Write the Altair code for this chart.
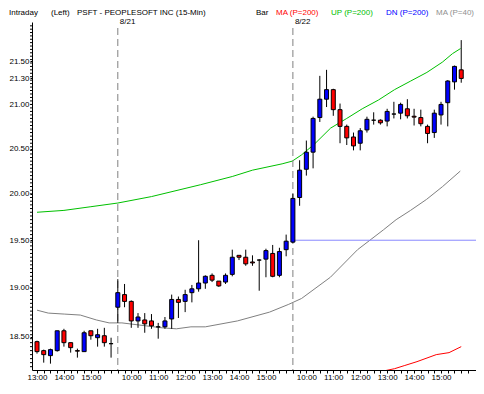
import altair as alt
import pandas as pd

# ---------------- data ----------------
bar_index = list(range(64))
opens = [18.45, 18.36, 18.31, 18.36, 18.56, 18.44, 18.36, 18.35, 18.56, 18.49, 18.51, 18.43,
         18.80, 18.93, 18.86, 18.66, 18.67, 18.66, 18.60, 18.60, 18.68, 18.88, 18.86, 18.95,
         18.99, 19.05, 19.13, 19.07, 19.06, 19.14, 19.34, 19.32, 19.27, 19.29, 19.30, 19.36,
         19.13, 19.40, 19.48, 19.96, 20.27, 20.46, 20.85, 21.06, 21.17, 20.94, 20.75, 20.63,
         20.56, 20.71, 20.82, 20.82, 20.81, 20.89, 20.90, 20.95, 20.865, 20.85, 20.75, 20.68,
         20.88, 21.02, 21.26, 21.40]
highs = [18.46, 18.37, 18.38, 18.56, 18.58, 18.44, 18.38, 18.56, 18.56, 18.58, 18.59, 18.49,
         19.09, 19.04, 18.87, 18.74, 18.74, 18.73, 18.64, 18.70, 18.93, 18.91, 18.98, 19.03,
         19.50, 19.13, 19.15, 19.07, 19.15, 19.40, 19.34, 19.40, 19.34, 19.30, 19.41, 19.45,
         19.42, 19.56, 20.00, 20.37, 20.59, 20.86, 21.33, 21.40, 21.18, 21.01, 20.77, 20.68,
         20.73, 20.86, 20.91, 20.83, 20.95, 21.03, 21.02, 21.06, 20.95, 20.94, 20.77, 20.94,
         21.03, 21.28, 21.45, 21.75]
lows = [18.33, 18.24, 18.23, 18.35, 18.40, 18.34, 18.29, 18.35, 18.47, 18.40, 18.40, 18.29,
        18.64, 18.80, 18.59, 18.59, 18.54, 18.58, 18.48, 18.58, 18.58, 18.69, 18.75, 18.85,
        18.96, 18.99, 19.06, 19.01, 19.04, 19.12, 19.29, 19.23, 19.23, 18.97, 19.11, 19.11,
        19.11, 19.33, 19.47, 19.87, 20.20, 20.28, 20.80, 20.97, 20.87, 20.56, 20.54, 20.48,
        20.48, 20.68, 20.77, 20.77, 20.75, 20.84, 20.83, 20.84, 20.76, 20.75, 20.56, 20.62,
        20.77, 20.75, 21.17, 21.25]
closes = [18.35, 18.32, 18.37, 18.56, 18.44, 18.39, 18.355, 18.54, 18.51, 18.52, 18.44, 18.43,
          18.95, 18.86, 18.66, 18.70, 18.63, 18.61, 18.60, 18.66, 18.88, 18.85, 18.93, 18.99,
          19.05, 19.12, 19.08, 19.02, 19.13, 19.32, 19.32, 19.25, 19.26, 19.29, 19.39, 19.12,
          19.38, 19.49, 19.95, 20.26, 20.46, 20.84, 21.06, 21.17, 20.94, 20.75, 20.62, 20.53,
          20.70, 20.83, 20.82, 20.79, 20.92, 20.89, 21.00, 20.87, 20.855, 20.78, 20.67, 20.90,
          21.00, 21.27, 21.44, 21.30]

up_k = [0, 4, 8, 12, 17, 24.3, 29, 32, 36.4, 37.9, 39.3, 41.2, 43.6, 46, 48.3, 50.7,
        53.1, 55.5, 57.9, 60.2, 61.7, 62.9]
up_v = [19.80, 19.82, 19.86, 19.90, 19.97, 20.10, 20.19, 20.26, 20.33, 20.36, 20.43, 20.55,
        20.73, 20.84, 20.95, 21.05, 21.17, 21.27, 21.37, 21.49, 21.59, 21.65]

ma40_k = [0, 1.67, 4.04, 6.43, 8.81, 10.71, 12.61, 16.19, 18.57, 20.71, 22.86, 25, 29.76,
          34.53, 37.39, 39.29, 43.57, 47.61, 51.43, 53.33, 55.47, 57.86, 60.24, 62.86]
ma40_v = [18.77, 18.74, 18.73, 18.72, 18.67, 18.64, 18.64, 18.61, 18.59, 18.58, 18.60, 18.60,
          18.66, 18.75, 18.83, 18.89, 19.11, 19.40, 19.61, 19.72, 19.82, 19.94, 20.08, 20.25]

ma200_k = [50.24, 51.67, 53.1, 54.53, 56.43, 59.29, 61.19, 63]
ma200_v = [18.134, 18.16, 18.18, 18.21, 18.25, 18.32, 18.34, 18.40]

dn_k = [38, 66]
dn_v = [19.50, 19.50]

day_k = [12, 38]
day_labels = ["8/21", "8/22"]

y_major = [18.5, 19.0, 19.5, 20.0, 20.5, 21.0, 21.3, 21.5]
y_minor = [round(18.20 + 0.04 * i, 2) for i in range(95)]
x_ticks = list(range(0, 65))

# ---------------- frames ----------------
candles = pd.DataFrame({"k": bar_index, "open": opens, "high": highs,
                        "low": lows, "close": closes})
candles["dir"] = ["up" if c >= o else "down" for o, c in zip(opens, closes)]

up_df = pd.DataFrame({"k": up_k, "v": up_v})
ma40_df = pd.DataFrame({"k": ma40_k, "v": ma40_v})
ma200_df = pd.DataFrame({"k": ma200_k, "v": ma200_v})
dn_df = pd.DataFrame({"k": dn_k, "v": dn_v})
day_df = pd.DataFrame({"k": day_k, "label": day_labels})
minor_df = pd.DataFrame({"v": [v for v in y_minor if 18.17 < v < 21.96]})

W, H = 444, 348
PX_PER_BAR = 434 / 63.0
xs = alt.Scale(domain=[0, W / PX_PER_BAR], nice=False, zero=False)
ys = alt.Scale(type="log", domain=[18.167, 21.966], nice=False, zero=False)

FONT = "Liberation Sans"
lab_expr_x = ("((570 + 15*((datum.value+14)%26)) % 60 == 0) ? "
              "floor((570 + 15*((datum.value+14)%26))/60) + ':00' : ''")

x_axis = alt.Axis(values=x_ticks, labelExpr=lab_expr_x, title=None, grid=False,
                  tickSize=3, labelPadding=0, labelOverlap=False, labelFlush=False,
                  labelBound=False, labelFontSize=8, labelFont=FONT, labelColor="black",
                  domainColor="black", tickColor="black")
y_axis = alt.Axis(values=y_major, format=".2f", title=None, grid=False, tickSize=2,
                  labelPadding=1, labelOverlap=False, labelFontSize=8, labelFont=FONT,
                  labelColor="black", domainColor="black", tickColor="black")

X = lambda f: alt.X(f, type="quantitative", scale=xs, axis=x_axis)
Y = lambda f: alt.Y(f, type="quantitative", scale=ys, axis=y_axis)

wicks = alt.Chart(candles).mark_rule(color="black", strokeWidth=1, clip=True).encode(
    x=X("k"), y=Y("low"), y2="high")

bodies = alt.Chart(candles).mark_bar(size=4, stroke="black", strokeWidth=1, clip=True,
                                     opacity=1).encode(
    x=X("k"), y=Y("open"), y2="close",
    color=alt.Color("dir:N", scale=alt.Scale(domain=["up", "down"], range=["#0000ff", "#ff0000"]),
                    legend=None))

def line(df, color):
    return alt.Chart(df).mark_line(color=color, strokeWidth=1, clip=True).encode(
        x=X("k"), y=Y("v"))

up_line = line(up_df, "#00c000")
ma40_line = line(ma40_df, "#808080")
ma200_line = line(ma200_df, "#ff0000")
dn_line = line(dn_df, "#8888ff")

day_rules = alt.Chart(day_df).mark_rule(color="#808080", strokeDash=[7, 4],
                                        strokeWidth=1).encode(
    x=X("k"), y=alt.value(6), y2=alt.value(H))

day_text = alt.Chart(day_df).mark_text(align="left", baseline="middle", dx=2, fontSize=8,
                                       font=FONT, color="black").encode(
    x=X("k"), y=alt.value(0), text="label:N")

minor = alt.Chart(minor_df).mark_rule(color="black", strokeWidth=1).encode(
    y=Y("v"), x=alt.value(-2), x2=alt.value(0))

# header (page x positions, converted to plot coordinates: plot origin is at page x 32)
ORIGIN = 32
header_items = [
    ("Intraday", 9, "black"),
    ("(Left)", 51, "black"),
    ("PSFT - PEOPLESOFT INC  (15-Min)", 77, "black"),
    ("Bar", 256, "black"),
    ("MA (P=200)", 276, "#ff0000"),
    ("UP (P=200)", 331, "#00c000"),
    ("DN (P=200)", 386, "#0000ff"),
    ("MA (P=40)", 436, "#909090"),
]
header_layers = []
for txt, px, col in header_items:
    header_layers.append(
        alt.Chart(pd.DataFrame({"t": [txt]})).mark_text(
            align="left", baseline="middle", fontSize=8, font=FONT, color=col).encode(
            x=alt.value(px - ORIGIN), y=alt.value(-9), text="t:N"))

chart = alt.layer(
    ma200_line, ma40_line, up_line, dn_line, day_rules, wicks, bodies, minor, day_text,
    *header_layers
).properties(
    width=W, height=H,
    autosize=alt.AutoSizeParams(type="none"),
    padding={"left": ORIGIN - 8, "top": 14, "right": 0, "bottom": 12},
    background="white",
).configure_view(stroke=None)

chart.save("out.html", embed_options={"renderer": "svg", "actions": False})
